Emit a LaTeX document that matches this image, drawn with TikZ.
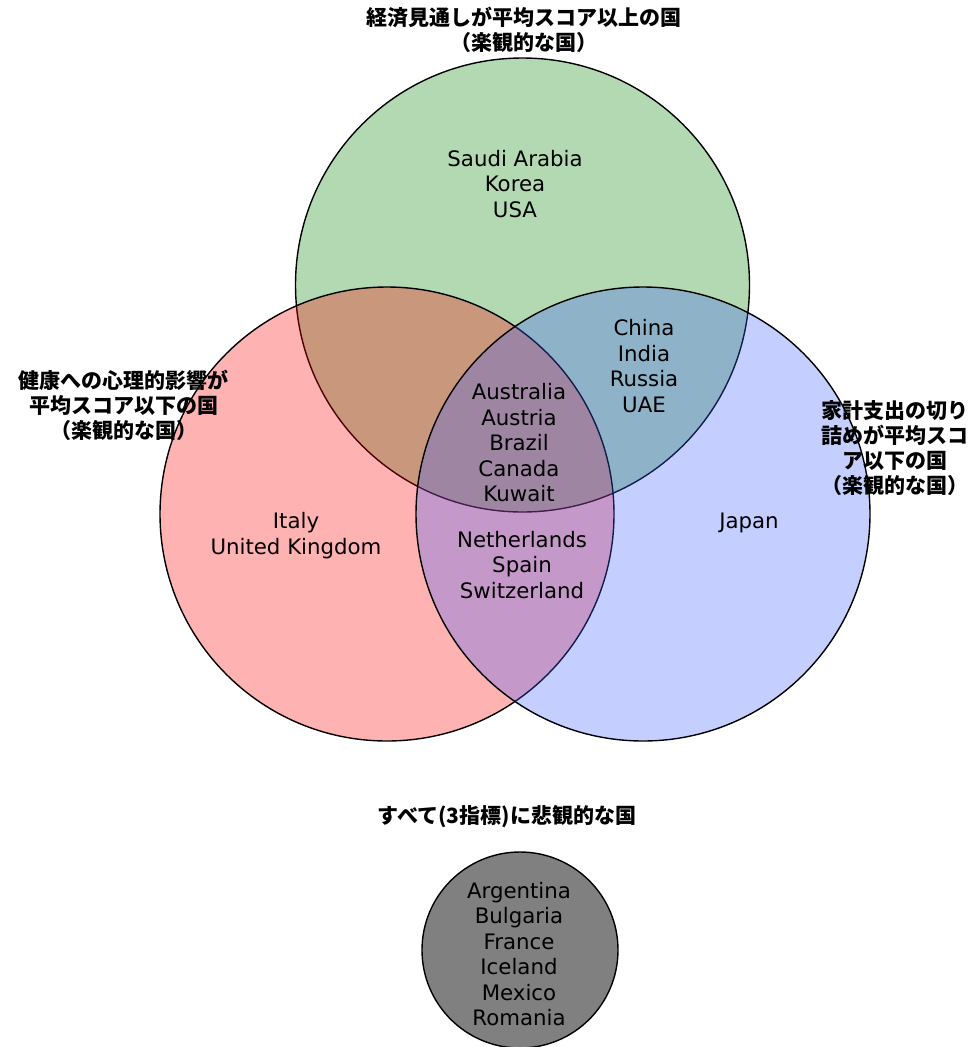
\documentclass[tikz,border=0pt]{standalone}
\usepackage{fontspec}
\setmainfont{DejaVu Sans}
\newfontfamily\jpfont{Noto Sans CJK JP}
\definecolor{econgreen}{RGB}{0,128,0}
\definecolor{healthred}{RGB}{255,0,0}
\definecolor{spendblue}{RGB}{60,95,255}
\definecolor{allgrey}{RGB}{128,128,128}

\begin{document}
\begin{tikzpicture}[x=1pt,y=-1pt,
    venn/.style={circle,draw=black,line width=1.4pt,fill opacity=0.3,inner sep=0pt,minimum size=454pt},
    names/.style={align=center,font=\fontsize{21.3}{25.5}\selectfont},
    title/.style={align=center,font=\jpfont\bfseries\fontsize{21}{25}\selectfont}]
  \useasboundingbox (0,0) rectangle (970,1047);
  %% the three circles, drawn in this order
  \node[venn,fill=econgreen] (econ) at (522.5,285) {};
  \node[venn,fill=healthred] (health) at (387,514) {};
  \node[venn,fill=spendblue] (spend) at (643,514) {};
  \node[circle,draw=black,line width=1.4pt,fill=allgrey,inner sep=0pt,minimum size=196pt] (allneg) at (520,950) {};
  %% circle titles
  \node[title] (econtitle) at (524,29.5) {経済見通しが平均スコア以上の国\\（楽観的な国）};
  \node[title] (healthtitle) at (124,405) {健康への心理的影響が\\平均スコア以下の国\\（楽観的な国）};
  \node[title] (spendtitle) at (895,448) {家計支出の切り\\詰めが平均スコ\\ア以下の国\\（楽観的な国）};
  \node[title] (allnegtitle) at (507,817) {すべて(3指標)に悲観的な国};
  %% countries
  \node[names] (econonly) at (515,184) {Saudi Arabia\\Korea\\USA};
  \node[names] (econspend) at (644,366) {China\\India\\Russia\\UAE};
  \node[names] (allthree) at (519,443) {Australia\\Austria\\Brazil\\Canada\\Kuwait};
  \node[names] (healthonly) at (296,535.5) {Italy\\United Kingdom};
  \node[names] (healthspend) at (522,565) {Netherlands\\Spain\\Switzerland};
  \node[names] (spendonly) at (749,523) {Japan};
  \node[names] (allnegnames) at (519,954) {Argentina\\Bulgaria\\France\\Iceland\\Mexico\\Romania};
\end{tikzpicture}
\end{document}
